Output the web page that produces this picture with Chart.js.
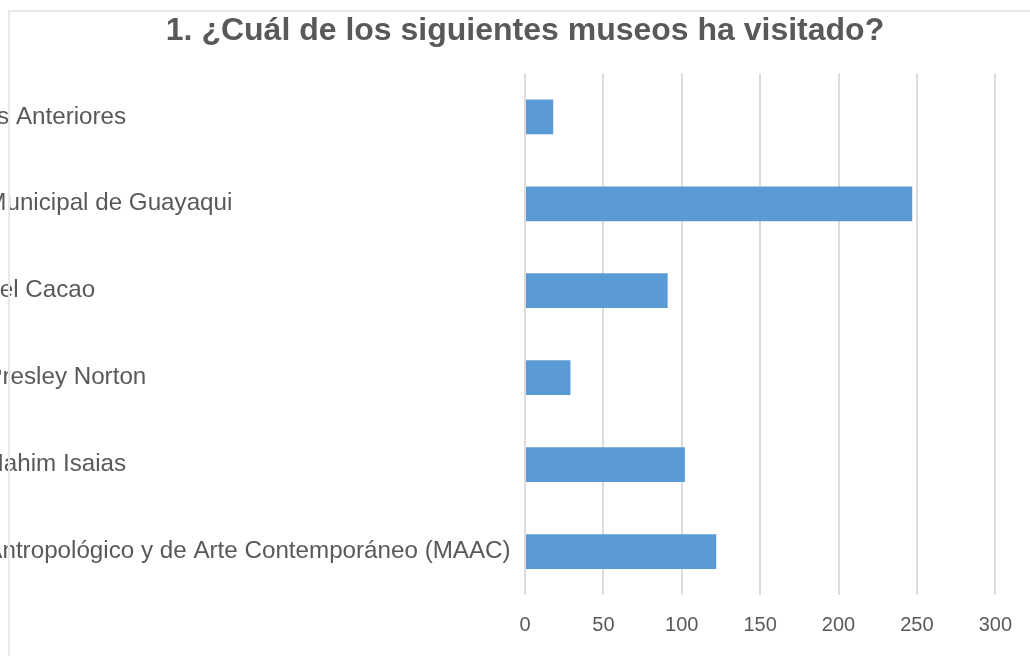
<!DOCTYPE html>
<html>
<head>
<meta charset="utf-8">
<script src="https://cdn.jsdelivr.net/npm/chart.js@4"></script>
<style>
  html, body { margin: 0; padding: 0; background: #fff; }
  #wrap { position: relative; width: 1030px; height: 656px; overflow: hidden; }
  #frame { position: absolute; left: 8px; top: 10px; right: 0; bottom: 0;
           border-top: 2px solid #e8e8e8; border-left: 2px solid #e8e8e8; pointer-events: none; }
</style>
</head>
<body>
<div id="wrap">
  <canvas id="museos_chart" width="1030" height="656"></canvas>
  <div id="frame"></div>
</div>
<script>
    // Categories (top to bottom) and counts
    const museos = [
        'Todos los Anteriores',
        'Museo Municipal de Guayaqui',
        'Museo del Cacao',
        'Museo Presley Norton',
        'Museo Nahim Isaias',
        'Museo Antropológico y de Arte Contemporáneo (MAAC)'
    ];
    const visitas = [18, 247, 91, 29, 102, 122];
    const xTicks = [0, 50, 100, 150, 200, 250, 300];

    const textColor = '#595959';

    // keep the title centred on the visible picture, not on the shifted layout
    const titleShift = {
        id: 'titleShift',
        afterLayout(chart) {
            if (chart.titleBlock) {
                chart.titleBlock.left = 50;
                chart.titleBlock.right = 1000;
            }
        }
    };

    const config = {
        type: 'bar',
        data: {
            labels: museos,
            datasets: [{
                label: 'Visitas',
                data: visitas,
                backgroundColor: '#5b9bd5',
                categoryPercentage: 1,
                barPercentage: 0.4
            }]
        },
        options: {
            indexAxis: 'y',
            responsive: false,
            animation: false,
            layout: {
                padding: { top: 0, right: 30, bottom: 1, left: -93 }
            },
            plugins: {
                legend: { display: false },
                tooltip: { enabled: false },
                title: {
                    display: true,
                    text: '1. ¿Cuál de los siguientes museos ha visitado?',
                    color: textColor,
                    font: { family: 'Liberation Sans', size: 32, weight: 'bold' },
                    padding: { top: 12, bottom: 23 }
                }
            },
            scales: {
                x: {
                    min: 0,
                    max: 300,
                    afterBuildTicks: (scale) => {
                        scale.ticks = xTicks.map(v => ({ value: v }));
                    },
                    grid: {
                        color: '#dcdcdc',
                        lineWidth: 2,
                        drawTicks: false
                    },
                    border: { display: false },
                    ticks: {
                        color: textColor,
                        padding: 18,
                        font: { family: 'Liberation Sans', size: 20 }
                    }
                },
                y: {
                    afterFit: (scale) => { scale.width = 618; },
                    grid: { display: false },
                    border: { display: false },
                    ticks: {
                        color: textColor,
                        crossAlign: 'far',
                        font: { family: 'Liberation Sans', size: 24.2 }
                    }
                }
            }
        },
        plugins: [titleShift]
    };

    // Render the chart
    const museos_chart = new Chart(
        document.getElementById('museos_chart'),
        config
    );
</script>
</body>
</html>
